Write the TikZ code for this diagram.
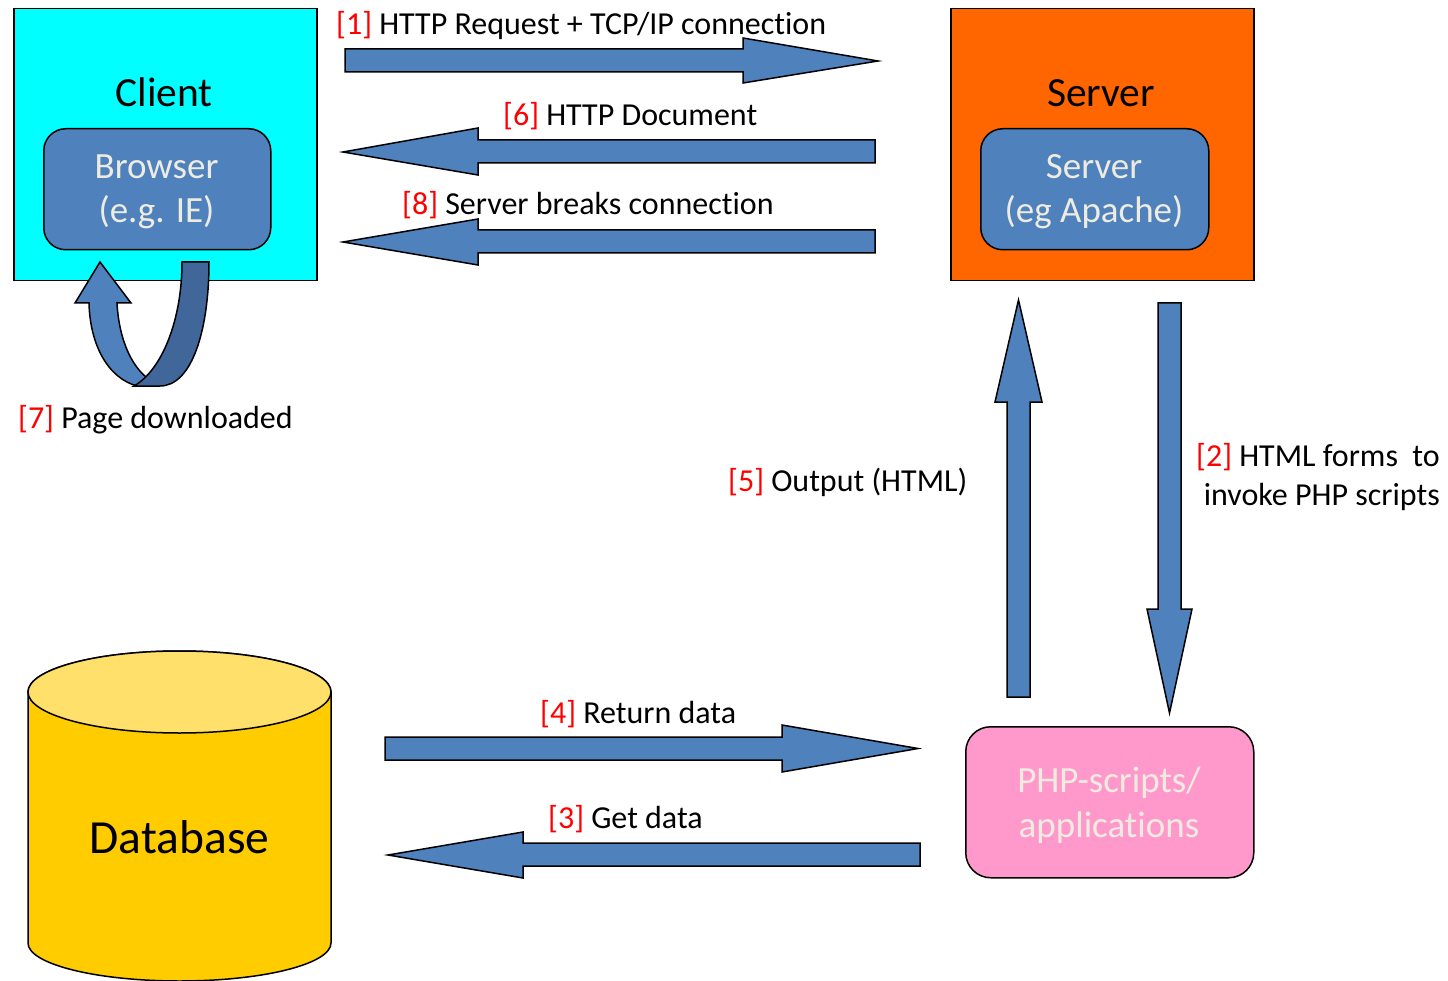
\documentclass[tikz,border=0pt]{standalone}
\usepackage{fontspec}
\setmainfont[Ligatures=NoCommon]{Carlito}
\definecolor{myblue}{HTML}{4F81BD}
\definecolor{darkblue}{HTML}{41679A}
\definecolor{cyanc}{HTML}{00FFFF}
\definecolor{orangec}{HTML}{FF6600}
\definecolor{dbyellow}{HTML}{FFCC00}
\definecolor{topyellow}{HTML}{FFE06A}
\definecolor{pinkc}{HTML}{FF99CC}
\definecolor{pale}{HTML}{EEECE1}
\definecolor{redc}{HTML}{FF0000}
\newcommand{\nm}[1]{\textcolor{redc}{[#1]}}
\begin{document}
\begin{tikzpicture}[x=1pt,y=-1pt,
  box/.style={draw=black, line width=1.5pt, anchor=north west, inner sep=0pt},
  blk/.style={draw=black, line width=1.5pt, fill=myblue, line join=miter},
  lbl/.style={anchor=base west, inner sep=0pt, font=\fontsize{32}{38}\selectfont},
  lble/.style={anchor=base east, inner sep=0pt, font=\fontsize{32}{38}\selectfont},
  big/.style={anchor=base, inner sep=0pt, font=\fontsize{41.5}{48}\selectfont},
  inner/.style={anchor=base, inner sep=0pt, text=pale, font=\fontsize{37}{44}\selectfont}]
\useasboundingbox (0,0) rectangle (1448,981);
\clip (0,0) rectangle (1448,981);

% Client
\node[box, fill=cyanc, minimum width=303pt, minimum height=272pt] (client) at (13,8) {};
\node[big] (clienttxt) at (164,107) {Client};
\node[box, fill=myblue, rounded corners=22pt, minimum width=227pt, minimum height=121pt] (browser) at (43,128) {};
\node[inner] (browser1) at (156.5,179) {Browser};
\node[inner] (browser2) at (156.5,223) {(e.g. IE)};

% Server
\node[box, fill=orangec, minimum width=303pt, minimum height=272pt] (server) at (950,8) {};
\node[big] (servertxt) at (1101,107) {Server};
\node[box, fill=myblue, rounded corners=22pt, minimum width=228pt, minimum height=121pt] (apache) at (980,128) {};
\node[inner] (apache1) at (1094,179) {Server};
\node[inner] (apache2) at (1094,223) {(eg Apache)};

% PHP
\node[box, fill=pinkc, rounded corners=25pt, minimum width=288pt, minimum height=151pt] (php) at (965,726) {};
\node[inner] (php1) at (1109,792) {PHP-scripts/};
\node[inner] (php2) at (1109,837) {applications};

% Database
\draw[line width=1.5pt, fill=dbyellow] (28,692) -- (28,943)
  arc[start angle=180, end angle=360, x radius=151.5pt, y radius=38pt]
  -- (331,692)
  arc[start angle=0, end angle=180, x radius=151.5pt, y radius=41pt] -- cycle;
\draw[line width=1.5pt, fill=topyellow] (179.5,692) ellipse [x radius=151.5pt, y radius=41pt];
\node[anchor=base, inner sep=0pt, font=\fontsize{47.5}{56}\selectfont] (db) at (179.5,853) {Database};

% Block arrows
\draw[blk] (345,49) -- (743,49) -- (743,38) -- (878,61) -- (743,83) -- (743,72) -- (345,72) -- cycle;
\draw[blk] (875,140) -- (478,140) -- (478,128) -- (343,152) -- (478,175) -- (478,163) -- (875,163) -- cycle;
\draw[blk] (875,230) -- (478,230) -- (478,219) -- (343,242) -- (478,265) -- (478,253) -- (875,253) -- cycle;
\draw[blk] (385,737) -- (782,737) -- (782,725) -- (918,748.5) -- (782,772) -- (782,760) -- (385,760) -- cycle;
\draw[blk] (920,843) -- (523,843) -- (523,832) -- (388,855) -- (523,878) -- (523,866) -- (920,866) -- cycle;
\draw[blk] (1007,697) -- (1007,402) -- (995,402) -- (1018.5,300) -- (1042,402) -- (1030,402) -- (1030,697) -- cycle;
\draw[blk] (1158,303) -- (1158,609) -- (1147,609) -- (1169.5,713) -- (1192,609) -- (1181,609) -- (1181,303) -- cycle;

% U-turn arrow
\draw[blk] (75,303) -- (100,262) -- (131,303) -- (117,303)
  .. controls (119,340) and (132,368) .. (150,380)
  -- (137,386) .. controls (108,378) and (90,345) .. (89,303) -- cycle;
\draw[blk, fill=darkblue] (182,262) -- (209,262)
  .. controls (209,330) and (192,386) .. (160,386) -- (134,386)
  .. controls (162,370) and (182,320) .. (182,262) -- cycle;

% Labels
\node[lbl] (l1) at (336,35) {\nm{1} HTTP Request + TCP/IP connection};
\node[lbl] (l6) at (503,126) {\nm{6} HTTP Document};
\node[lbl] (l8) at (402,215) {\nm{8} Server breaks connection};
\node[lbl] (l7) at (18,428) {\nm{7} Page downloaded};
\node[lbl] (l5) at (728,491) {\nm{5} Output (HTML)};
\node[lble] (l2a) at (1440,466) {\nm{2} HTML forms~ to};
\node[lble] (l2b) at (1440,505) {invoke PHP scripts};
\node[lbl] (l4) at (540,723) {\nm{4} Return data};
\node[lbl] (l3) at (548,828) {\nm{3} Get data};
\end{tikzpicture}
\end{document}
